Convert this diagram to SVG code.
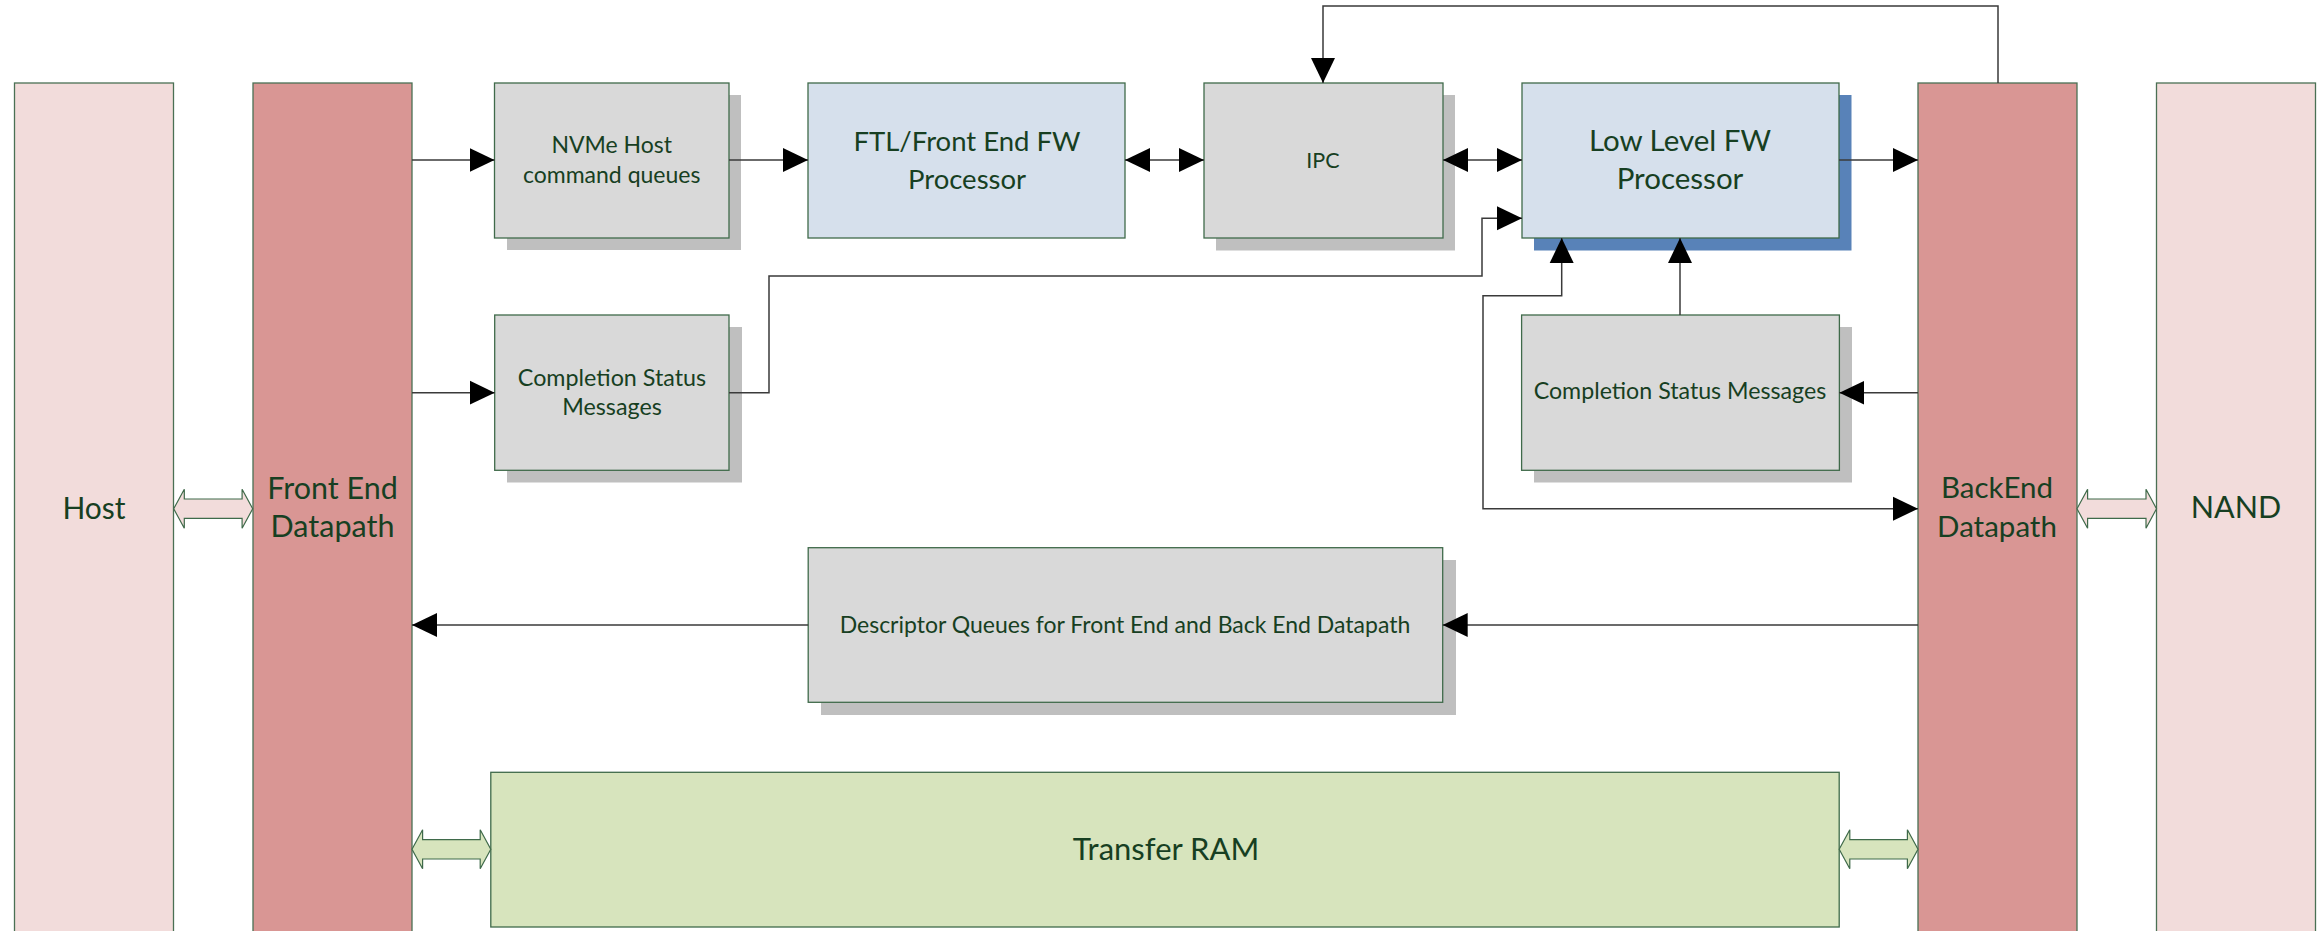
<svg xmlns="http://www.w3.org/2000/svg" width="2321" height="931" viewBox="0 0 2321 931">
<style>
.col{stroke:#4a7054;stroke-width:1.3}
.pink{fill:#f2dcdb}
.red{fill:#d99694}
.gray{fill:#d9d9d9;stroke:#3f6a4a;stroke-width:1.3}
.blue{fill:#d6e0ec;stroke:#3f6a4a;stroke-width:1.3}
.green{fill:#d7e4bd;stroke:#3f6a4a;stroke-width:1.3}
.sh{fill:#bfbfbf}
.shb{fill:#5882b8}
.t{font-family:Lato,"Open Sans",sans-serif;fill:#173f22;text-anchor:middle}
.ln{fill:none;stroke:#3a3a3a;stroke-width:1.5}
.barr{stroke:#3f6a4a;stroke-width:1.2}
</style>
<defs>
<marker id="ah" markerUnits="userSpaceOnUse" markerWidth="26" markerHeight="26" refX="25" refY="12" orient="auto-start-reverse" viewBox="0 0 26 24">
<path d="M0,0 L25,12 L0,24 Z" fill="#000"/>
</marker>
</defs>

<g id="host">
<rect class="col pink" x="14.5" y="83" width="159" height="860"/>
<text class="t" x="94" y="519" font-size="30">Host</text>
</g>
<g id="frontend">
<rect class="col red" x="253" y="83" width="159" height="860"/>
<text class="t" x="332.5" y="499" font-size="30.5">Front End</text>
<text class="t" x="332.5" y="537" font-size="30.5">Datapath</text>
</g>
<g id="nvme">
<rect class="sh" x="507" y="95" width="234" height="155"/>
<rect class="gray" x="494.5" y="83" width="234.5" height="155"/>
<text class="t" x="611.7" y="153" font-size="23">NVMe Host</text>
<text class="t" x="611.7" y="183" font-size="23">command queues</text>
</g>
<g id="ftl">
<rect class="blue" x="808" y="83" width="317" height="155"/>
<text class="t" x="967" y="150.7" font-size="27.5">FTL/Front End FW</text>
<text class="t" x="967" y="189" font-size="27.5">Processor</text>
</g>
<g id="ipc">
<rect class="sh" x="1216" y="95" width="239" height="155.5"/>
<rect class="gray" x="1204" y="83" width="239" height="155"/>
<text class="t" x="1323" y="168" font-size="21.5">IPC</text>
</g>
<g id="lowlevel">
<rect class="shb" x="1534" y="95" width="317.5" height="155.5"/>
<rect class="blue" x="1522" y="83" width="317" height="155"/>
<text class="t" x="1680" y="150.7" font-size="29.5">Low Level FW</text>
<text class="t" x="1680" y="189" font-size="29.5">Processor</text>
</g>
<g id="completion-left">
<rect class="sh" x="507" y="327" width="235" height="155.5"/>
<rect class="gray" x="494.7" y="315" width="234.3" height="155.3"/>
<text class="t" x="612" y="386" font-size="23.3">Completion Status</text>
<text class="t" x="612" y="415" font-size="23.3">Messages</text>
</g>
<g id="completion-right">
<rect class="sh" x="1534" y="327" width="318" height="155.5"/>
<rect class="gray" x="1521.6" y="315" width="317.8" height="155.3"/>
<text class="t" x="1680" y="399" font-size="23.2">Completion Status Messages</text>
</g>
<g id="backend">
<rect class="col red" x="1918" y="83" width="159" height="860"/>
<text class="t" x="1997" y="498" font-size="29.5">BackEnd</text>
<text class="t" x="1997" y="537" font-size="29.5">Datapath</text>
</g>
<g id="nand">
<rect class="col pink" x="2156.5" y="83" width="159" height="860"/>
<text class="t" x="2236" y="518" font-size="30.5">NAND</text>
</g>
<g id="descriptor">
<rect class="sh" x="821" y="560" width="635" height="155"/>
<rect class="gray" x="808.2" y="547.7" width="634.5" height="154.6"/>
<text class="t" x="1125" y="633" font-size="23">Descriptor Queues for Front End and Back End Datapath</text>
</g>
<g id="transfer-ram">
<rect class="green" x="490.8" y="772.3" width="1348.4" height="154.7"/>
<text class="t" x="1166" y="860" font-size="31">Transfer RAM</text>
</g>

<g id="connectors">
<path class="ln" d="M412,160 H494.5" marker-end="url(#ah)"/>
<path class="ln" d="M729,160 H808" marker-end="url(#ah)"/>
<path class="ln" d="M1125,160 H1204" marker-start="url(#ah)" marker-end="url(#ah)"/>
<path class="ln" d="M1443,160 H1522" marker-start="url(#ah)" marker-end="url(#ah)"/>
<path class="ln" d="M1839,160 H1918" marker-end="url(#ah)"/>
<path class="ln" d="M1998,83 V6 H1323 V83" marker-end="url(#ah)"/>
<path class="ln" d="M412,392.7 H494.7" marker-end="url(#ah)"/>
<path class="ln" d="M729,392.7 H769 V276 H1482 V218.3 H1522" marker-end="url(#ah)"/>
<path class="ln" d="M1918,392.7 H1839.4" marker-end="url(#ah)"/>
<path class="ln" d="M1680,315 V238" marker-end="url(#ah)"/>
<path class="ln" d="M1561.7,238 V295.7 H1483 V508.7 H1918" marker-start="url(#ah)" marker-end="url(#ah)"/>
<path class="ln" d="M1918,625 H1442.7" marker-end="url(#ah)"/>
<path class="ln" d="M808.2,625 H412" marker-end="url(#ah)"/>
<polygon class="barr pink" points="173.7,508.7 184.3,489.2 184.3,499 242.1,499 242.1,489.2 252.7,508.7 242.1,528.2 242.1,518.4 184.3,518.4 184.3,528.2"/>
<polygon class="barr pink" points="2077,508.7 2087.6,489.2 2087.6,499 2146,499 2146,489.2 2156.5,508.7 2146,528.2 2146,518.4 2087.6,518.4 2087.6,528.2"/>
<polygon class="barr green" points="412,849.3 422.6,829.8 422.6,839.6 480.2,839.6 480.2,829.8 490.8,849.3 480.2,868.8 480.2,859 422.6,859 422.6,868.8"/>
<polygon class="barr green" points="1839.2,849.3 1849.8,829.8 1849.8,839.6 1907.4,839.6 1907.4,829.8 1918,849.3 1907.4,868.8 1907.4,859 1849.8,859 1849.8,868.8"/>
</g>
</svg>
